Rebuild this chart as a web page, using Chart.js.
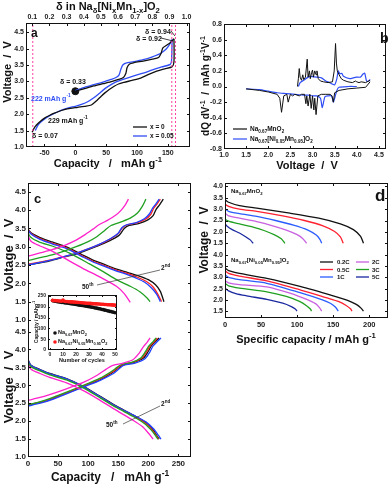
<!DOCTYPE html>
<html lang="en">
<head>
<meta charset="UTF-8">
<title>Na0.67MnO2 vs Ni-doped</title>
<script src="https://cdn.jsdelivr.net/npm/chart.js"></script>
<style>
  body { margin: 0; background: #fff; }
  #fig { position: relative; width: 391px; height: 485px; overflow: hidden; font-family: "Liberation Sans", Arial, sans-serif; }
  canvas { position: absolute; }
  .t { position: absolute; white-space: nowrap; font-weight: bold; line-height: 1; color: #111; }
  sub, sup { font-size: 70%; line-height: 0; }
  svg { position: absolute; left: 0; top: 0; }
</style>
</head>
<body>
<div id="fig"></div>
<script>
// ---- panel a : first cycle, capacity vs voltage ----
const aTicksX = [-50, 0, 50, 100, 150];
const aTicksDelta = [0.1, 0.2, 0.3, 0.4, 0.5, 0.6, 0.7, 0.8, 0.9, 1.0];
const aTicksY = [1.0, 1.5, 2.0, 2.5, 3.0, 3.5, 4.0, 4.5];
const aMnCharge = [[0,2.7],[15,2.78],[30,2.86],[45,2.93],[60,3.0],[70,3.06],[78,3.12],[82,3.25],[84,3.42],[88,3.53],[95,3.57],[110,3.62],[125,3.68],[135,3.73],[139,3.85],[142,4.02],[148,4.1],[154,4.18],[160,4.3]];
const aMnDischarge = [[160,4.3],[160,3.6],[157,3.45],[145,3.38],[132,3.31],[120,3.22],[106,3.1],[92,3.03],[79,2.97],[70,2.92],[63,2.85],[55,2.75],[48,2.65],[42,2.55],[35,2.42],[26,2.28],[15,2.24],[4,2.21],[-8,2.18],[-18,2.14],[-26,2.09],[-34,2.03],[-42,1.96],[-50,1.88],[-57,1.78],[-63,1.67],[-67,1.57],[-70,1.45]];
const aNiCharge = [[0,2.72],[15,2.82],[30,2.9],[45,2.98],[58,3.06],[66,3.12],[71,3.2],[74,3.38],[77,3.5],[82,3.56],[95,3.6],[110,3.66],[125,3.75],[138,3.85],[147,3.98],[152,4.1],[155,4.2],[157,4.28]];
const aNiDischarge = [[157,4.28],[156,3.62],[154,3.52],[140,3.44],[125,3.35],[110,3.25],[95,3.17],[80,3.08],[68,3.0],[58,2.9],[48,2.78],[38,2.62],[30,2.5],[20,2.38],[10,2.3],[0,2.24],[-10,2.2],[-20,2.14],[-30,2.06],[-40,1.97],[-48,1.88],[-55,1.78],[-60,1.68],[-63,1.58],[-65,1.5]];
const aStart = [[0, 2.7]];
const aMarkers = [-69, 156.5, 162.5];   // delta = 0.07, 0.92, 0.94

// ---- panel b : dQ/dV ----
const bTicksX = [1.0, 1.5, 2.0, 2.5, 3.0, 3.5, 4.0, 4.5];
const bTicksY = [-0.8, -0.6, -0.4, -0.2, 0.0, 0.2, 0.4, 0.6, 0.8];
const bMnCharge = [[2.66,0.0],[2.68,0.1],[2.70,0.23],[2.72,0.12],[2.75,0.08],[2.78,0.15],[2.8,0.09],[2.84,0.12],[2.88,0.35],[2.9,0.12],[2.93,0.2],[2.95,0.1],[2.98,0.18],[3.0,0.21],[3.02,0.12],[3.05,0.2],[3.08,0.15],[3.1,0.2],[3.13,0.1],[3.18,0.07],[3.25,0.06],[3.35,0.05],[3.45,0.06],[3.49,0.2],[3.52,0.55],[3.54,0.3],[3.56,0.2],[3.6,0.15],[3.65,0.1],[3.7,0.08],[3.8,0.06],[3.9,0.05],[3.97,0.07],[4.0,0.06],[4.05,0.05],[4.1,0.06],[4.2,0.05],[4.3,0.08]];
const bMnDischarge = [[4.3,0.06],[4.2,-0.01],[4.0,-0.02],[3.8,-0.03],[3.6,-0.05],[3.5,-0.08],[3.47,-0.2],[3.44,-0.12],[3.4,-0.1],[3.3,-0.1],[3.2,-0.1],[3.12,-0.12],[3.08,-0.36],[3.05,-0.15],[3.03,-0.3],[3.0,-0.12],[2.97,-0.28],[2.94,-0.1],[2.9,-0.25],[2.87,-0.12],[2.85,-0.22],[2.82,-0.1],[2.75,-0.1],[2.7,-0.12],[2.6,-0.1],[2.55,-0.12],[2.5,-0.1],[2.45,-0.2],[2.42,-0.1],[2.35,-0.12],[2.3,-0.33],[2.26,-0.15],[2.2,-0.1],[2.0,-0.07],[1.8,-0.05],[1.5,-0.03]];
const bNiCharge = [[2.68,0.0],[2.72,0.05],[2.8,0.08],[2.9,0.12],[2.95,0.13],[3.1,0.12],[3.2,0.11],[3.3,0.07],[3.35,0.06],[3.45,0.03],[3.5,0.02],[3.55,0.1],[3.58,0.2],[3.62,0.16],[3.66,0.17],[3.7,0.13],[3.84,0.1],[3.92,0.11],[3.99,0.12],[4.08,0.12],[4.14,0.16],[4.18,0.17],[4.22,0.07],[4.27,0.07],[4.3,0.09]];
const bNiDischarge = [[4.0,0.0],[3.8,0.0],[3.6,-0.01],[3.55,-0.05],[3.5,-0.15],[3.47,-0.2],[3.43,-0.12],[3.35,-0.12],[3.28,-0.13],[3.22,-0.27],[3.18,-0.15],[3.1,-0.12],[3.0,-0.12],[2.9,-0.11],[2.8,-0.11],[2.6,-0.1],[2.4,-0.09],[2.2,-0.08],[2.0,-0.06],[1.8,-0.04],[1.5,-0.03]];

// ---- panel c : cycling, upper Na0.67MnO2, lower Ni-doped ----
const cTicksX = [0, 50, 100, 150, 200, 250];
const cTicksY = [1.0, 1.5, 2.0, 2.5, 3.0, 3.5, 4.0, 4.5];
const cCycleColors = ['#111111', '#ff2020', '#2040ff', '#20a020', '#ff22cc'];
const cMnCharge = [
  [[0,2.5],[20,2.56],[40,2.63],[60,2.72],[80,2.8],[100,2.92],[120,3.05],[140,3.2],[152,3.32],[160,3.5],[168,3.58],[185,3.64],[200,3.74],[208,3.85],[213,4.02],[219,4.15],[225,4.3]],
  [[0,2.52],[20,2.58],[40,2.65],[60,2.73],[80,2.82],[100,2.94],[120,3.07],[138,3.22],[150,3.36],[157,3.52],[165,3.6],[182,3.66],[196,3.76],[204,3.88],[209,4.05],[215,4.18],[220,4.3]],
  [[0,2.5],[20,2.57],[40,2.64],[60,2.73],[80,2.82],[100,2.94],[120,3.08],[138,3.23],[150,3.37],[156,3.52],[164,3.6],[180,3.66],[194,3.77],[202,3.9],[207,4.05],[213,4.18],[218,4.3]],
  [[0,2.62],[20,2.7],[40,2.78],[60,2.88],[80,3.0],[100,3.14],[115,3.28],[128,3.45],[138,3.58],[155,3.68],[170,3.78],[182,3.92],[190,4.1],[196,4.3]],
  [[0,2.74],[20,2.83],[40,2.92],[60,3.03],[80,3.18],[95,3.33],[108,3.48],[118,3.6],[132,3.72],[145,3.85],[155,4.0],[162,4.15],[167,4.3]]
];
const cMnDischarge = [
  [[0,4.1],[0,3.5],[5,3.38],[20,3.25],[40,3.13],[65,2.99],[90,2.78],[110,2.62],[125,2.53],[145,2.4],[165,2.3],[185,2.2],[200,2.1],[212,1.96],[220,1.78],[226,1.5]],
  [[0,3.48],[5,3.36],[20,3.22],[40,3.1],[65,2.96],[90,2.75],[110,2.59],[125,2.5],[145,2.37],[165,2.27],[183,2.16],[197,2.05],[208,1.9],[216,1.7],[222,1.5]],
  [[0,3.47],[5,3.35],[20,3.2],[40,3.08],[65,2.94],[90,2.73],[110,2.57],[125,2.48],[145,2.35],[163,2.25],[180,2.14],[194,2.03],[205,1.88],[214,1.7],[220,1.5]],
  [[0,4.0],[0,3.42],[5,3.25],[20,3.12],[40,3.02],[70,2.82],[100,2.55],[125,2.32],[147,2.1],[170,1.92],[186,1.77],[198,1.6],[203,1.5]],
  [[0,3.9],[0,3.36],[5,3.15],[20,3.02],[40,2.88],[70,2.6],[91,2.41],[120,2.17],[147,1.92],[160,1.72],[170,1.48]]
];
const cNiCharge = [
  [[0,2.44],[15,2.5],[36,2.6],[64,2.78],[92,2.97],[120,3.16],[140,3.35],[150,3.48],[158,3.57],[175,3.63],[192,3.76],[200,3.95],[205,4.1],[212,4.22],[218,4.32]],
  [[0,2.45],[15,2.51],[36,2.61],[64,2.79],[92,2.98],[120,3.18],[140,3.37],[150,3.5],[157,3.58],[174,3.64],[190,3.77],[198,3.96],[203,4.1],[210,4.22],[215,4.32]],
  [[0,2.42],[15,2.48],[36,2.58],[64,2.76],[92,2.95],[120,3.14],[142,3.33],[152,3.47],[160,3.56],[178,3.62],[195,3.75],[203,3.94],[208,4.1],[215,4.22],[221,4.32]],
  [[0,2.46],[15,2.52],[36,2.63],[64,2.81],[92,3.0],[120,3.2],[138,3.38],[148,3.5],[155,3.58],[172,3.64],[188,3.77],[196,3.96],[201,4.1],[208,4.22],[213,4.32]],
  [[0,2.58],[15,2.64],[36,2.74],[64,2.9],[92,3.08],[115,3.28],[130,3.45],[140,3.55],[158,3.62],[175,3.72],[185,3.9],[192,4.08],[198,4.2],[203,4.32]]
];
const cNiDischarge = [
  [[0,3.72],[5,3.56],[20,3.44],[36,3.33],[64,3.19],[92,2.97],[120,2.69],[147,2.42],[175,2.17],[195,1.97],[207,1.78],[214,1.6],[218,1.5]],
  [[0,3.7],[5,3.54],[20,3.42],[36,3.31],[64,3.17],[92,2.95],[120,2.67],[147,2.4],[175,2.15],[195,1.95],[206,1.76],[213,1.6],[217,1.5]],
  [[0,3.71],[5,3.55],[20,3.43],[36,3.32],[64,3.18],[92,2.96],[120,2.68],[147,2.41],[175,2.17],[196,1.98],[209,1.78],[217,1.6],[221,1.5]],
  [[0,4.0],[0,3.68],[5,3.52],[20,3.4],[36,3.29],[64,3.15],[92,2.93],[120,2.65],[147,2.38],[175,2.13],[194,1.93],[205,1.75],[212,1.6],[216,1.5]],
  [[0,3.95],[0,3.62],[5,3.45],[20,3.33],[36,3.22],[64,3.07],[92,2.85],[120,2.58],[147,2.3],[172,2.05],[190,1.85],[200,1.67],[208,1.5]]
];

// ---- inset : capacity retention ----
const insetCycles = [2,3,4,5,6,7,8,9,10,11,12,13,14,15,16,17,18,19,20,21,22,23,24,25,26,27,28,29,30,31,32,33,34,35,36,37,38,39,40,41,42,43,44,45,46,47,48,49,50];
const insetMn = [229,227,226,225,224,223,222,221,220,219,218,218,217,216,215,214,213,212,211,210,209,208,207,206,205,204,203,202,201,200,199,198,196,195,194,192,191,190,188,187,185,184,182,181,179,178,176,175,173];
const insetNi = [230,229,229,228,228,227,227,226,232,226,225,225,224,224,223,223,222,222,221,221,220,220,219,219,218,218,217,217,216,216,215,215,214,214,214,213,213,212,212,212,211,211,210,210,210,209,209,208,208];
const insetTicksX = [0, 10, 20, 30, 40, 50];
const insetTicksY = [0, 50, 100, 150, 200, 250];

// ---- panel d : rate capability ----
const dRates = ['0.2C', '0.5C', '1C', '2C', '3C', '5C'];
const dColors = ['#111111', '#ff2030', '#2a5cff', '#c860e0', '#20a020', '#1a28a0'];
const dTicksX = [0, 50, 100, 150, 200];
const dTicksY = [1.5, 2.0, 2.5, 3.0, 3.5, 4.0];
const dMn = [
  [[0,3.41],[5,3.3],[20,3.15],[44,3.04],[90,2.82],[130,2.6],[160,2.35],[178,2.1],[188,1.8],[192,1.5]],
  [[0,3.95],[0,3.24],[5,3.12],[20,3.0],[44,2.9],[80,2.7],[110,2.5],[135,2.28],[152,2.02],[160,1.78],[164,1.5]],
  [[0,3.02],[5,2.9],[20,2.8],[44,2.68],[70,2.5],[95,2.3],[115,2.08],[127,1.85],[132,1.65],[134,1.5]],
  [[0,2.83],[5,2.7],[20,2.6],[44,2.45],[65,2.28],[85,2.08],[100,1.88],[108,1.7],[113,1.5]],
  [[0,3.9],[0,2.59],[5,2.47],[20,2.35],[40,2.2],[55,2.05],[68,1.88],[78,1.7],[83,1.5]],
  [[0,2.37],[3,2.25],[10,2.1],[20,1.95],[28,1.8],[35,1.65],[39,1.5]]
];
const dNi = [
  [[0,3.42],[5,3.3],[20,3.18],[58,2.96],[104,2.6],[150,2.18],[170,1.98],[182,1.8],[189,1.62],[192,1.5]],
  [[0,3.3],[5,3.18],[20,3.06],[58,2.85],[104,2.45],[140,2.1],[158,1.92],[168,1.75],[174,1.6],[176,1.5]],
  [[0,3.12],[5,3.0],[20,2.9],[58,2.74],[104,2.32],[135,2.0],[146,1.85],[153,1.68],[157,1.5]],
  [[0,2.86],[5,2.76],[20,2.68],[58,2.58],[90,2.3],[115,2.0],[126,1.82],[131,1.65],[134,1.5]],
  [[0,2.74],[5,2.62],[20,2.52],[58,2.36],[85,2.15],[104,1.92],[113,1.74],[118,1.6],[120,1.5]],
  [[0,2.52],[5,2.4],[15,2.28],[30,2.18],[58,2.02],[80,1.85],[92,1.7],[97,1.6],[100,1.5]]
];

const fig = document.getElementById('fig');

function txt(html, x, y, size, o = {}) {
  const d = document.createElement('div');
  d.className = 't';
  d.innerHTML = html;
  d.style.left = x + 'px';
  d.style.top = y + 'px';
  d.style.fontSize = size + 'px';
  if (o.color) d.style.color = o.color;
  let tr = o.left ? 'translate(0,-50%)' : 'translate(-50%,-50%)';
  if (o.rot) tr += ' rotate(-90deg)';
  d.style.transform = tr;
  fig.appendChild(d);
}

// box with inward tick marks
const frame = {
  id: 'frame',
  afterDraw(chart, args, o) {
    const { ctx, chartArea: a } = chart;
    const sides = o.sides || 'tblr';
    ctx.save();
    ctx.strokeStyle = '#111';
    ctx.lineWidth = 1;
    ctx.beginPath();
    if (sides.includes('t')) { ctx.moveTo(a.left, a.top + 0.5); ctx.lineTo(a.right, a.top + 0.5); }
    if (sides.includes('b')) { ctx.moveTo(a.left, a.bottom - 0.5); ctx.lineTo(a.right, a.bottom - 0.5); }
    if (sides.includes('l')) { ctx.moveTo(a.left + 0.5, a.top); ctx.lineTo(a.left + 0.5, a.bottom); }
    if (sides.includes('r')) { ctx.moveTo(a.right - 0.5, a.top); ctx.lineTo(a.right - 0.5, a.bottom); }
    const len = o.len || 3;
    Object.values(chart.scales).forEach(s => {
      s.ticks.forEach(t => {
        const p = Math.round(s.getPixelForValue(t.value)) + 0.5;
        if (s.isHorizontal()) {
          if (p < a.left || p > a.right) return;
          const where = s.id === 'x2' ? ['t'] : (o.xt || ['b', 't']);
          if (where.includes('b')) { ctx.moveTo(p, a.bottom); ctx.lineTo(p, a.bottom - len); }
          if (where.includes('t')) { ctx.moveTo(p, a.top); ctx.lineTo(p, a.top + len); }
        } else {
          if (p < a.top || p > a.bottom) return;
          ctx.moveTo(a.left, p); ctx.lineTo(a.left + len, p);
          ctx.moveTo(a.right, p); ctx.lineTo(a.right - len, p);
        }
      });
    });
    ctx.stroke();
    ctx.restore();
  }
};

function lin(min, max, ticks, size, fit, fmt, pos, show = true) {
  return {
    type: 'linear', position: pos, min, max,
    grid: { display: false, drawTicks: false },
    border: { display: false },
    ticks: { display: show, font: { family: 'Liberation Sans', size, weight: 'bold' }, color: '#222', padding: 2, autoSkip: false, maxRotation: 0, callback: fmt },
    afterBuildTicks: s => { s.ticks = ticks.map(v => ({ value: v })); },
    afterFit: s => {
      if (s.isHorizontal()) s.height = fit; else s.width = fit;
      s.paddingTop = s.paddingBottom = s.paddingLeft = s.paddingRight = 0;
    }
  };
}

const f1 = v => v.toFixed(1);
const f0 = v => String(v);

function line(pts, color, w = 1.3, extra = {}) {
  return Object.assign({
    data: pts.map(([x, y]) => ({ x, y })),
    borderColor: color, backgroundColor: color,
    showLine: true, pointRadius: 0, borderWidth: w, tension: 0.25
  }, extra);
}

// area: chart area in page pixels; yw: y axis width; top: space above area; xh: x axis height; padR: right margin
function panel(area, yw, top, xh, padR, datasets, scales, fopts) {
  const c = document.createElement('canvas');
  c.width = yw + area.r - area.l + padR;
  c.height = top + area.b - area.t + xh;
  c.style.left = (area.l - yw) + 'px';
  c.style.top = (area.t - top) + 'px';
  fig.appendChild(c);
  const hasTop = !!scales.x2;
  return new Chart(c, {
    type: 'scatter',
    data: { datasets },
    options: {
      responsive: false, animation: false, devicePixelRatio: 1,
      layout: { padding: { top: hasTop ? 0 : top, right: padR, left: 0, bottom: 0 } },
      scales,
      plugins: { legend: { display: false }, tooltip: { enabled: false }, frame: fopts || {} }
    },
    plugins: [frame]
  });
}

// ---------- panel a ----------
const aBlue = '#2f4df5', pink = '#ff3fa0';
const aSets = aMarkers.map(x => line([[x, 1.0], [x, 4.78]], pink, 1, { borderDash: [2, 2], tension: 0 }));
aSets.push(
  line(aMnCharge, '#111'), line(aMnDischarge, '#111'),
  line(aNiCharge, aBlue), line(aNiDischarge, aBlue),
  { data: aStart.map(([x, y]) => ({ x, y })), pointRadius: 3.5, backgroundColor: '#111', borderColor: '#111' }
);
panel({ l: 26, t: 23, r: 190, b: 147 }, 26, 23, 22, 6, aSets, {
  x: lin(-80, 186, aTicksX, 7, 22, f0, 'bottom'),
  x2: lin(0.063, 1.02, aTicksDelta, 7, 23, f1, 'top'),
  y: lin(1.0, 4.78, aTicksY, 7, 26, f1, 'left')
}, { xt: ['b'] });

// ---------- panel b ----------
const bBlue = '#2f4df5';
panel({ l: 224, t: 24, r: 386, b: 149 }, 24, 10, 16, 5, [
  line(bMnCharge, '#111', 1, { tension: 0 }), line(bMnDischarge, '#111', 1, { tension: 0 }),
  line(bNiCharge, bBlue, 1.2, { tension: 0.2 }), line(bNiDischarge, bBlue, 1.2, { tension: 0.2 })
], {
  x: lin(1.0, 4.66, bTicksX, 7, 16, f1, 'bottom'),
  y: lin(-0.8, 0.8, bTicksY, 7, 24, f1, 'left')
});

// ---------- panel c ----------
const cUpSets = [], cLoSets = [];
cCycleColors.forEach((col, i) => {
  cUpSets.push(line(cMnCharge[i], col), line(cMnDischarge[i], col));
  cLoSets.push(line(cNiCharge[i], col), line(cNiDischarge[i], col));
});
panel({ l: 28, t: 183, r: 191, b: 324 }, 28, 6, 0, 4, cUpSets.reverse(), {
  x: lin(0, 271, cTicksX, 8, 0, f0, 'bottom', false),
  y: lin(0.89, 4.74, cTicksY, 8, 28, f1, 'left')
}, { sides: 'tlr', xt: ['t'] });
panel({ l: 28, t: 324, r: 191, b: 457 }, 28, 0, 14, 4, cLoSets.reverse(), {
  x: lin(0, 271, cTicksX, 8, 14, f0, 'bottom'),
  y: lin(1.0, 4.71, cTicksY, 8, 28, f1, 'left')
}, { sides: 'blr', xt: ['b'] });

// inset
panel({ l: 48, t: 295, r: 117, b: 350 }, 19, 5, 10, 6, [
  { data: insetNi.map((v, i) => ({ x: insetCycles[i], y: v })), pointRadius: 1.8, backgroundColor: '#ff1a1a', borderColor: '#ff1a1a', borderWidth: 0 },
  { data: insetMn.map((v, i) => ({ x: insetCycles[i], y: v })), pointRadius: 1.8, backgroundColor: '#111', borderColor: '#111', borderWidth: 0 }
], {
  x: lin(-1.5, 51.5, insetTicksX, 5, 10, f0, 'bottom'),
  y: lin(0, 255, insetTicksY, 5, 19, f0, 'left')
}, { len: 2 });

// ---------- panel d ----------
panel({ l: 225, t: 183, r: 388, b: 249 }, 20, 4, 0, 3, dMn.map((p, i) => line(p, dColors[i])), {
  x: lin(0, 226, dTicksX, 7, 0, f0, 'bottom', false),
  y: lin(1.25, 4.145, dTicksY, 7, 20, f1, 'left')
}, { sides: 'tlr', xt: ['t'] });
panel({ l: 225, t: 249, r: 388, b: 318 }, 20, 0, 14, 3, dNi.map((p, i) => line(p, dColors[i])), {
  x: lin(0, 226, dTicksX, 7.5, 14, f0, 'bottom'),
  y: lin(1.19, 4.27, dTicksY, 7, 20, f1, 'left')
}, { sides: 'blr', xt: ['b'] });

// ---------- text ----------
txt('&delta; in Na<sub>&delta;</sub>[Ni<sub>x</sub>Mn<sub>1-x</sub>]O<sub>2</sub>', 108, 6, 11);
txt('Voltage&nbsp;&nbsp;/&nbsp;&nbsp;V', 6.5, 72, 11, { rot: true });
txt('Capacity&nbsp;&nbsp;&nbsp;/&nbsp;&nbsp;&nbsp;mAh g<sup>-1</sup>', 108, 163, 11);
txt('a', 31, 33, 12, { left: true });
txt('&delta; = 0.94', 145, 31, 7, { left: true });
txt('&delta; = 0.92', 136, 38, 7, { left: true });
txt('&delta; = 0.33', 60, 81, 7, { left: true });
txt('222 mAh g<sup>-1</sup>', 31, 98, 7, { left: true, color: aBlue });
txt('229 mAh g<sup>-1</sup>', 48, 120, 7, { left: true });
txt('&delta; = 0.07', 32, 135, 7, { left: true });
txt('x = 0', 150, 127, 6.5, { left: true });
txt('x = 0.05', 150, 136, 6.5, { left: true });

txt('dQ dV<sup>-1</sup>&nbsp;&nbsp;/&nbsp;&nbsp;mAh g<sup>-1</sup>V<sup>-1</sup>', 206, 86, 10, { rot: true });
txt('Voltage&nbsp;&nbsp;/&nbsp;&nbsp;V', 307, 165, 11);
txt('b', 380, 38, 14, { left: true });
txt('Na<sub>0.67</sub>MnO<sub>2</sub>', 250, 129, 6.5, { left: true });
txt('Na<sub>0.67</sub>[Ni<sub>0.05</sub>Mn<sub>0.95</sub>]O<sub>2</sub>', 250, 139, 6.5, { left: true });

txt('c', 34, 198, 13, { left: true });
txt('Voltage&nbsp;&nbsp;/&nbsp;&nbsp;V', 8, 255, 13, { rot: true });
txt('Voltage&nbsp;&nbsp;/&nbsp;&nbsp;V', 8, 387, 13, { rot: true });
txt('Capacity&nbsp;&nbsp;&nbsp;/&nbsp;&nbsp;&nbsp;mAh g<sup>-1</sup>', 110, 477, 12);
txt('50<sup>th</sup>', 82, 287, 6.5, { left: true });
txt('2<sup>nd</sup>', 161, 268, 6.5, { left: true });
txt('50<sup>th</sup>', 106, 425, 6.5, { left: true });
txt('2<sup>nd</sup>', 161, 404, 6.5, { left: true });
txt('Capacity / mAhg<sup>-1</sup>', 36, 322, 5, { rot: true });
txt('Number of cycles', 82, 361, 5.5);
txt('Na<sub>0.67</sub>MnO<sub>2</sub>', 58, 333, 5.5, { left: true });
txt('Na<sub>0.67</sub>Ni<sub>0.05</sub>Mn<sub>0.95</sub>O<sub>2</sub>', 58, 342, 5.5, { left: true });

txt('Voltage&nbsp;&nbsp;/&nbsp;&nbsp;V', 204, 240, 12, { rot: true });
txt('Specific capacity / mAh g<sup>-1</sup>', 306, 339, 11);
txt('d', 375, 195, 17, { left: true });
txt('Na<sub>0.67</sub>MnO<sub>2</sub>', 231, 191, 6, { left: true });
txt('Na<sub>0.67</sub>[Ni<sub>0.05</sub>Mn<sub>0.95</sub>]O<sub>2</sub>', 231, 260, 6, { left: true });
dRates.forEach((r, i) => {
  const col = i < 3 ? 0 : 1, row = i % 3;
  txt(r, (col ? 372 : 337), 262 + row * 7.5, 6, { left: true });
});

// annotation strokes (legend keys, arrows)
let s = '<svg width="391" height="485">';
s += '<line x1="133" y1="127" x2="147" y2="127" stroke="#111" stroke-width="1.3"/>';
s += '<line x1="133" y1="136" x2="147" y2="136" stroke="' + aBlue + '" stroke-width="1.3"/>';
s += '<line x1="171" y1="31" x2="175" y2="36" stroke="#111" stroke-width="0.8"/>';
s += '<line x1="161" y1="38" x2="173" y2="41" stroke="#111" stroke-width="0.8"/>';
s += '<line x1="233" y1="129" x2="247" y2="129" stroke="#111" stroke-width="1.2"/>';
s += '<line x1="233" y1="139" x2="247" y2="139" stroke="' + bBlue + '" stroke-width="1.2"/>';
s += '<line x1="97" y1="285" x2="160" y2="270" stroke="#333" stroke-width="0.7"/>';
s += '<line x1="123" y1="424" x2="160" y2="406" stroke="#333" stroke-width="0.7"/>';
s += '<circle cx="55" cy="333" r="1.8" fill="#111"/><circle cx="55" cy="342" r="1.8" fill="#ff1a1a"/>';
dColors.forEach((c, i) => {
  const col = i < 3 ? 0 : 1, row = i % 3;
  const x = col ? 356 : 320;
  s += '<line x1="' + x + '" y1="' + (262 + row * 7.5) + '" x2="' + (x + 13) + '" y2="' + (262 + row * 7.5) + '" stroke="' + c + '" stroke-width="1.3"/>';
});
s += '</svg>';
fig.insertAdjacentHTML('beforeend', s);
</script>
</body>
</html>
